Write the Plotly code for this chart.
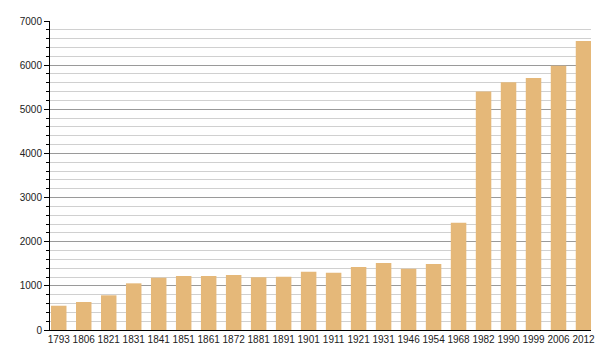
import plotly.graph_objects as go

years = ["1793", "1806", "1821", "1831", "1841", "1851", "1861", "1872", "1881", "1891",
         "1901", "1911", "1921", "1931", "1946", "1954", "1968", "1982", "1990", "1999",
         "2006", "2012"]
population = [550, 634, 786, 1057, 1185, 1223, 1226, 1246, 1193, 1205,
              1321, 1299, 1430, 1520, 1385, 1495, 2431, 5405, 5614, 5709,
              5989, 6547]
y_ticks = [0, 1000, 2000, 3000, 4000, 5000, 6000, 7000]

fig = go.Figure()
fig.add_trace(go.Bar(
    x=list(range(len(years))), y=population,
    marker=dict(color="#e5b879", line=dict(width=0)),
    width=0.62,
))

fig.update_layout(
    width=600, height=360,
    margin=dict(l=50, r=9, t=21, b=30, autoexpand=False),
    paper_bgcolor="white", plot_bgcolor="white",
    showlegend=False,
    font=dict(family="Liberation Sans, Arial, sans-serif", size=10, color="#222222"),
)
fig.update_xaxes(
    range=[-0.35, 21.3],
    tickmode="array", tickvals=list(range(len(years))), ticktext=years,
    tickangle=0, automargin=False,
    showline=True, linecolor="black", linewidth=1,
    showgrid=False, ticks="", zeroline=False,
    tickfont=dict(size=10),
)
fig.update_yaxes(
    range=[0, 7000], automargin=False,
    tickmode="array", tickvals=y_ticks, ticktext=[str(v) for v in y_ticks],
    showline=True, linecolor="black", linewidth=1,
    showgrid=True, gridcolor="#9a9a9a", gridwidth=1,
    ticks="outside", ticklen=5, tickcolor="black",
    zeroline=False,
    minor=dict(dtick=200, showgrid=True, gridcolor="#d0d0d0", gridwidth=1,
               ticks="outside", ticklen=3, tickcolor="black"),
    tickfont=dict(size=10),
)

fig.write_html("out.html")
